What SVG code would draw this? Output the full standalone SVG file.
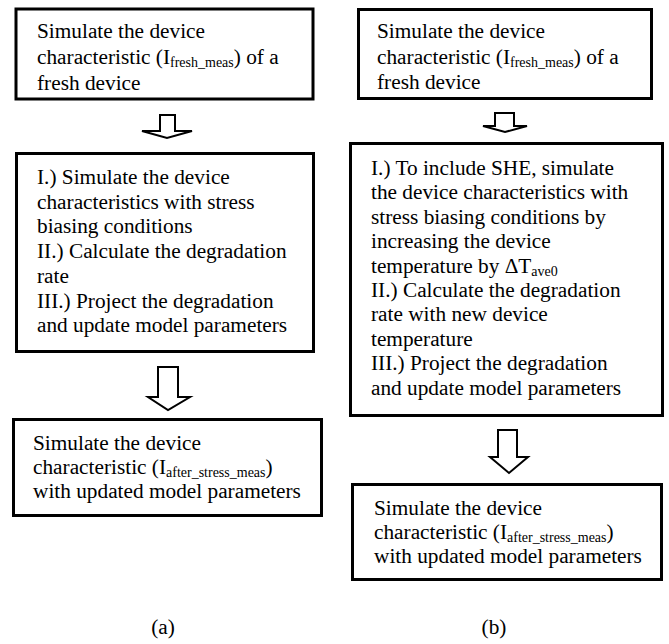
<svg xmlns="http://www.w3.org/2000/svg" width="669" height="644" viewBox="0 0 669 644" font-family="'Liberation Serif', 'Times New Roman', Times, serif" font-size="21.3">
<style>
.box{fill:#fff;stroke:#000;stroke-width:3}
.arr{fill:#fff;stroke:#000;stroke-width:2;stroke-linejoin:miter}
.sub{font-size:14px}
</style>
<rect width="669" height="644" fill="#fff"/>
<g id="connectors">
<path class="arr" d="M160,115 H175 V131 H192 L167,138 L142,131 H160 Z"/>
<path class="arr" d="M158,367 H178 V397 H190 L168,410 L148,397 H158 Z"/>
<path class="arr" d="M495,113 H514 V126 H527 L505,132 L483,126 H495 Z"/>
<path class="arr" d="M498,430 H517 V457 H528 L509,473 L490,457 H498 Z"/>
</g>
<g id="a1">
<rect class="box" x="16" y="9" width="297" height="90"/>
<text x="37" y="38">Simulate the device</text>
<text x="37" y="64">characteristic (I<tspan class="sub" dy="3">fresh_meas</tspan><tspan dy="-3">) of a</tspan></text>
<text x="37" y="90">fresh device</text>
</g>
<g id="a2">
<rect class="box" x="16.5" y="153.5" width="297" height="198"/>
<text x="37" y="184">I.) Simulate the device</text>
<text x="37" y="208.7">characteristics with stress</text>
<text x="37" y="233.4">biasing conditions</text>
<text x="37" y="258">II.) Calculate the degradation</text>
<text x="37" y="282.8">rate</text>
<text x="37" y="307.5">III.) Project the degradation</text>
<text x="37" y="332">and update model parameters</text>
</g>
<g id="a3">
<rect class="box" x="13.5" y="419.5" width="308" height="96"/>
<text x="33" y="450">Simulate the device</text>
<text x="33" y="474">characteristic (I<tspan class="sub" dy="3">after_stress_meas</tspan><tspan dy="-3">)</tspan></text>
<text x="33" y="498">with updated model parameters</text>
</g>
<g id="b1">
<rect class="box" x="358.5" y="9.5" width="293" height="89"/>
<text x="377" y="38">Simulate the device</text>
<text x="377" y="63.5">characteristic (I<tspan class="sub" dy="3">fresh_meas</tspan><tspan dy="-3">) of a</tspan></text>
<text x="377" y="89">fresh device</text>
</g>
<g id="b2">
<rect class="box" x="350.5" y="143.5" width="312" height="272"/>
<text x="371" y="175">I.) To include SHE, simulate</text>
<text x="371" y="199.4">the device characteristics with</text>
<text x="371" y="223.8">stress biasing conditions by</text>
<text x="371" y="248.2">increasing the device</text>
<text x="371" y="272.6">temperature by ΔT<tspan class="sub" dy="3">ave0</tspan></text>
<text x="371" y="297">II.) Calculate the degradation</text>
<text x="371" y="321.4">rate with new device</text>
<text x="371" y="345.8">temperature</text>
<text x="371" y="370.2">III.) Project the degradation</text>
<text x="371" y="394.6">and update model parameters</text>
</g>
<g id="b3">
<rect class="box" x="352.5" y="484.5" width="309" height="95"/>
<text x="374" y="515">Simulate the device</text>
<text x="374" y="539">characteristic (I<tspan class="sub" dy="3">after_stress_meas</tspan><tspan dy="-3">)</tspan></text>
<text x="374" y="563">with updated model parameters</text>
</g>
<g id="labels">
<text x="163" y="634" text-anchor="middle">(a)</text>
<text x="494" y="634" text-anchor="middle">(b)</text>
</g>
</svg>
